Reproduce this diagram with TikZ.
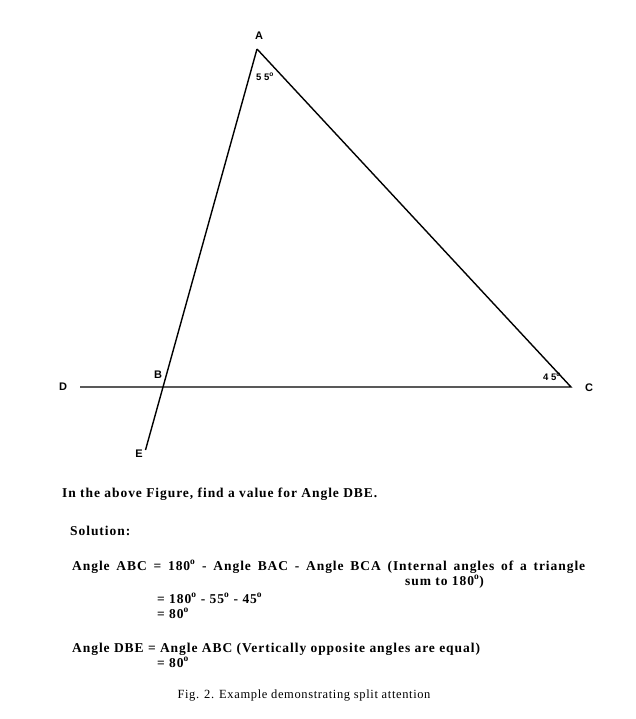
\documentclass[tikz,border=0pt]{standalone}
\usepackage{fontspec}
\setmainfont{Liberation Serif}
\newfontfamily\lblfont{Liberation Sans}
\newfontfamily\bodyfont[LetterSpace=7]{Liberation Serif}
\newfontfamily\capfont[LetterSpace=5]{Liberation Serif}
\usepackage{tikz}
\usetikzlibrary{arrows.meta}
\newcommand{\dg}{\textsuperscript{o}}

\begin{document}
\begin{tikzpicture}[x=1pt,y=-1pt]
\tikzstyle{every node}=[inner sep=0pt]
\tikzstyle{ptlabel}=[font=\lblfont\fontsize{11}{12}\selectfont\bfseries]
\tikzstyle{anglabel}=[font=\lblfont\fontsize{9.5}{11}\selectfont\bfseries]
\tikzstyle{txt}=[anchor=base west,font=\bodyfont\fontsize{13.5}{15}\selectfont\bfseries]
\useasboundingbox (0,0) rectangle (636,719);
\coordinate (A) at (257,49);
\coordinate (B) at (163,387);
\coordinate (C) at (571,387);
\coordinate (D) at (80,387);
\coordinate (E) at (145.5,450);
\draw[line width=1.4pt] (A) -- (C) -- (D);
\draw[line width=1.4pt] (A) -- (E);
\node[ptlabel] (la) at (259,36) {A};
\node[ptlabel] (lb) at (158,375) {B};
\node[ptlabel] (lc) at (589,388) {C};
\node[ptlabel] (ld) at (63,387) {D};
\node[ptlabel] (le) at (139,454) {E};
\node[anglabel] (aa) at (265,77) {5 5\dg};
\node[anglabel] (ac) at (552,377) {4 5\dg};
% question and solution
\node[txt] (q) at (62,497) {In the above Figure, find a value for Angle DBE.};
\node[txt] (s) at (70,535) {Solution:};
\node[txt] (l1) at (72,570) {\makebox[513pt][s]{Angle ABC = 180\dg{} - Angle BAC - Angle BCA (Internal angles of a triangle}};
\node[txt] (l2) at (405,585) {sum to 180\dg)};
\node[txt] (l3) at (157,603) {= 180\dg{} - 55\dg{} - 45\dg};
\node[txt] (l4) at (157,618) {= 80\dg};
\node[txt] (l5) at (72,652) {Angle DBE = Angle ABC (Vertically opposite angles are equal)};
\node[txt] (l6) at (157,667) {= 80\dg};
\node[anchor=base,font=\capfont\fontsize{12.5}{14}\selectfont] (cap) at (304,698) {Fig. 2. Example demonstrating split attention};
\end{tikzpicture}
\end{document}
